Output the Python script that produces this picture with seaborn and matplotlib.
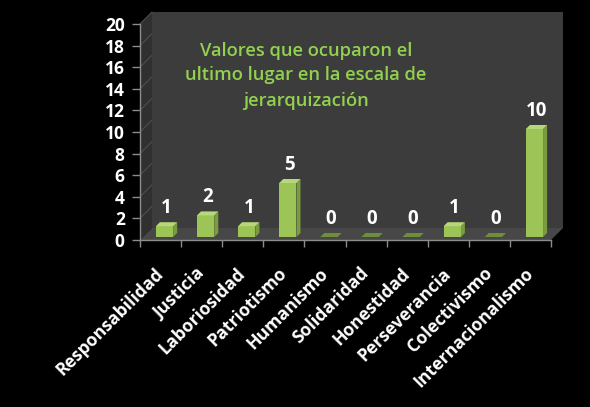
import matplotlib
matplotlib.use("Agg")
import numpy as np
import pandas as pd
import seaborn as sns
import matplotlib.pyplot as plt
from matplotlib.patches import Polygon, Rectangle
from matplotlib.lines import Line2D
from matplotlib.transforms import IdentityTransform, Affine2D

categories = ["Responsabilidad", "Justicia", "Laboriosidad", "Patriotismo", "Humanismo",
              "Solidaridad", "Honestidad", "Perseverancia", "Colectivismo", "Internacionalismo"]
values = [1, 2, 1, 5, 0, 0, 0, 1, 0, 10]
yticks = list(range(0, 21, 2))
title = "Valores que ocuparon el\nultimo lugar en la escala de\njerarquización"

sns.set_theme(style="dark")
plt.rcParams["font.family"] = ["Open Sans", "DejaVu Sans"]

W, H = 590, 407
fig = plt.figure(figsize=(W / 100, H / 100), dpi=100, facecolor="black")
L, B, R, T = 140, 167, 551, 383
DX, DY = 12, 12
ax = fig.add_axes([L / W, B / H, (R - L) / W, (T - B) / H])
ax.set_facecolor("none")

df = pd.DataFrame({"cat": categories, "val": values})
FRONT, SIDE, TOP = "#9cc457", "#7a9b3e", "#b6d77a"
sns.barplot(data=df, x="cat", y="val", order=categories, color=FRONT, saturation=1,
            width=0.42, edgecolor="none", ax=ax, zorder=3)
ax.set_ylim(0, 20)
ax.set_xlim(-0.5, len(categories) - 0.5)
ax.set_yticks(yticks)
ax.set_xlabel("")
ax.set_ylabel("")

ident = IdentityTransform()
# walls and floor
ax.add_patch(Polygon([(L + DX, B + DY), (R + DX, B + DY), (R + DX, T + DY), (L + DX, T + DY)],
                     closed=True, transform=ident, facecolor="#3c3c3c", edgecolor="none",
                     clip_on=False, zorder=0))
ax.add_patch(Polygon([(L, B), (L + DX, B + DY), (L + DX, T + DY), (L, T)],
                     closed=True, transform=ident, facecolor="#303030", edgecolor="none",
                     clip_on=False, zorder=0.5))
ax.add_patch(Polygon([(L, B), (R, B), (R + DX, B + DY), (L + DX, B + DY)],
                     closed=True, transform=ident, facecolor="#474747", edgecolor="none",
                     clip_on=False, zorder=0.5))
for yt in yticks[1:]:
    py = ax.transData.transform((0, yt))[1]
    ax.add_line(Line2D([L, L + DX], [py, py + DY], transform=ident, color="#4e4e4e",
                       lw=0.8, clip_on=False, zorder=0.6))

# 3D bar faces
OX, OY, D = 4, 3, 4
bars = [pp for pp in ax.patches if isinstance(pp, Rectangle)]
for p, v in zip(bars, values):
    x0 = p.get_x()
    w = p.get_width()
    (px0, py0) = ax.transData.transform((x0, 0))
    (px1, py1) = ax.transData.transform((x0 + w, p.get_height()))
    p.set_transform(ax.transData + Affine2D().translate(OX, OY))
    px0, px1, py0, py1 = px0 + OX, px1 + OX, py0 + OY, py1 + OY
    ax.add_patch(Polygon([(px1, py0), (px1 + D, py0 + D), (px1 + D, py1 + D), (px1, py1)],
                         closed=True, transform=ident, facecolor=SIDE, edgecolor="none",
                         clip_on=False, zorder=3))
    ax.add_patch(Polygon([(px0, py1), (px1, py1), (px1 + D, py1 + D), (px0 + D, py1 + D)],
                         closed=True, transform=ident, facecolor=TOP if v > 0 else "#6f8e3a",
                         edgecolor="none", clip_on=False, zorder=3))
    ax.annotate(str(v), xy=(x0 + w / 2, v), xytext=(OX + 2, OY + 18), textcoords="offset pixels",
                ha="center", va="center", color="white", fontsize=13.5, fontweight="bold",
                zorder=5)

for s in ["top", "right"]:
    ax.spines[s].set_visible(False)
for s in ["left", "bottom"]:
    ax.spines[s].set_color("#8c8c8c")
    ax.spines[s].set_linewidth(1.0)
    ax.spines[s].set_zorder(2)

ax.tick_params(axis="y", length=6, width=1, color="#8c8c8c", labelcolor="white",
               labelsize=12.5, pad=5, left=True)
for t in ax.get_yticklabels():
    t.set_fontweight("bold")
ax.set_xticks(np.arange(-0.5, len(categories), 1), minor=True)
ax.tick_params(axis="x", which="minor", length=5, width=1, color="#8c8c8c", bottom=True)
ax.tick_params(axis="x", which="major", length=0, labelcolor="white", labelsize=12.7, pad=22)
ax.set_xticks(range(len(categories)))
ax.set_xticklabels(categories, rotation=45, ha="right", va="center", rotation_mode="anchor",
                   fontweight="bold")
ax.grid(False)

fig.text(306 / W, (H - 75.5) / H, title, ha="center", va="center", color="#92d050",
         fontsize=13.2, fontweight="semibold", linespacing=1.5)

fig.savefig("out.png", dpi=100, facecolor="black")
